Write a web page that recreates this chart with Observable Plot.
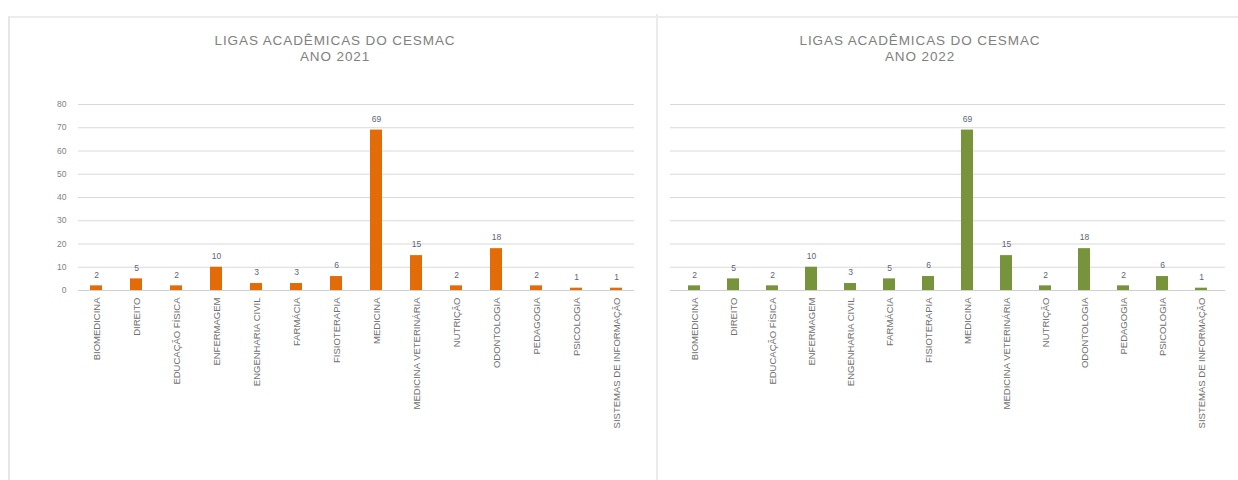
<!DOCTYPE html>
<html>
<head>
<meta charset="utf-8">
<script src="https://cdn.jsdelivr.net/npm/d3@7"></script>
<script src="https://cdn.jsdelivr.net/npm/@observablehq/plot@0.6"></script>
<style>
  html, body { margin: 0; padding: 0; background: #fff; width: 1238px; height: 480px; overflow: hidden; }
  .frame { position: absolute; left: 8px; top: 16px; width: 1230px; height: 470px; border-left: 2px solid #e6e6e6; border-top: 2px solid #ececec; }
  .divider { position: absolute; left: 656px; top: 14px; width: 2px; height: 470px; background: #ebebeb; }
  .title { position: absolute; width: 440px; text-align: center; font-family: "Liberation Sans", Arial, sans-serif; font-size: 13.5px; line-height: 16px; color: #808080; letter-spacing: 0.9px; }
  .chart { position: absolute; top: 70px; }
</style>
</head>
<body>
<div class="frame"></div>
<div class="divider"></div>
<div class="title" style="left:115px; top:33px;">LIGAS ACADÊMICAS DO CESMAC<br>ANO 2021</div>
<div class="title" style="left:700px; top:33px;">LIGAS ACADÊMICAS DO CESMAC<br>ANO 2022</div>
<div id="c1" class="chart" style="left:8px;"></div>
<div id="c2" class="chart" style="left:660px;"></div>
<script>
const categories = [
  "BIOMEDICINA", "DIREITO", "EDUCAÇÃO FÍSICA", "ENFERMAGEM", "ENGENHARIA CIVIL",
  "FARMÁCIA", "FISIOTERAPIA", "MEDICINA", "MEDICINA VETERINÁRIA", "NUTRIÇÃO",
  "ODONTOLOGIA", "PEDAGOGIA", "PSICOLOGIA", "SISTEMAS DE INFORMAÇÃO"
];
const values2021 = [2, 5, 2, 10, 3, 3, 6, 69, 15, 2, 18, 2, 1, 1];
const values2022 = [2, 5, 2, 10, 3, 5, 6, 69, 15, 2, 18, 2, 6, 1];
const yTicks = [0, 10, 20, 30, 40, 50, 60, 70, 80];

function makeChart(values, color, opts) {
  const data = categories.map((c, i) => ({category: c, value: values[i]}));
  const marks = [
    Plot.gridY(yTicks, {stroke: "#d9d9d9", strokeOpacity: 1}),
    Plot.ruleY([0], {stroke: "#d0d0d0"}),
    Plot.axisX({tickRotate: -90, tickSize: 0, tickPadding: 7, fontSize: 9.5, fill: "#6f6f6f", label: null, style: {letterSpacing: "1.3px"}}),
    Plot.barY(data, {x: "category", y: "value", fill: color}),
    Plot.text(data, {x: "category", y: "value", text: d => String(d.value), dy: -11, fontSize: 8.5, fill: "#5b6478"})
  ];
  if (opts.yAxis) {
    marks.push(Plot.axisY(yTicks, {tickSize: 0, tickPadding: 12, fontSize: 8.5, fill: "#7f7f7f", label: null}));
  } else {
    marks.push(Plot.axisY({ticks: [], label: null}));
  }
  return Plot.plot({
    width: opts.width,
    height: 410,
    marginLeft: opts.marginLeft,
    marginRight: opts.marginRight,
    marginTop: 34,
    marginBottom: 190,
    style: {fontFamily: "Liberation Sans, Arial, sans-serif", background: "transparent", color: "#6f6f6f"},
    x: {domain: categories, paddingInner: 0.7, paddingOuter: 0.3, label: null},
    y: {domain: [0, 80], label: null},
    marks
  });
}

document.getElementById("c1").appendChild(makeChart(values2021, "#e36c09", {width: 645, marginLeft: 70, marginRight: 19, yAxis: true}));
document.getElementById("c2").appendChild(makeChart(values2022, "#77933c", {width: 578, marginLeft: 10, marginRight: 13, yAxis: false}));
</script>
</body>
</html>
